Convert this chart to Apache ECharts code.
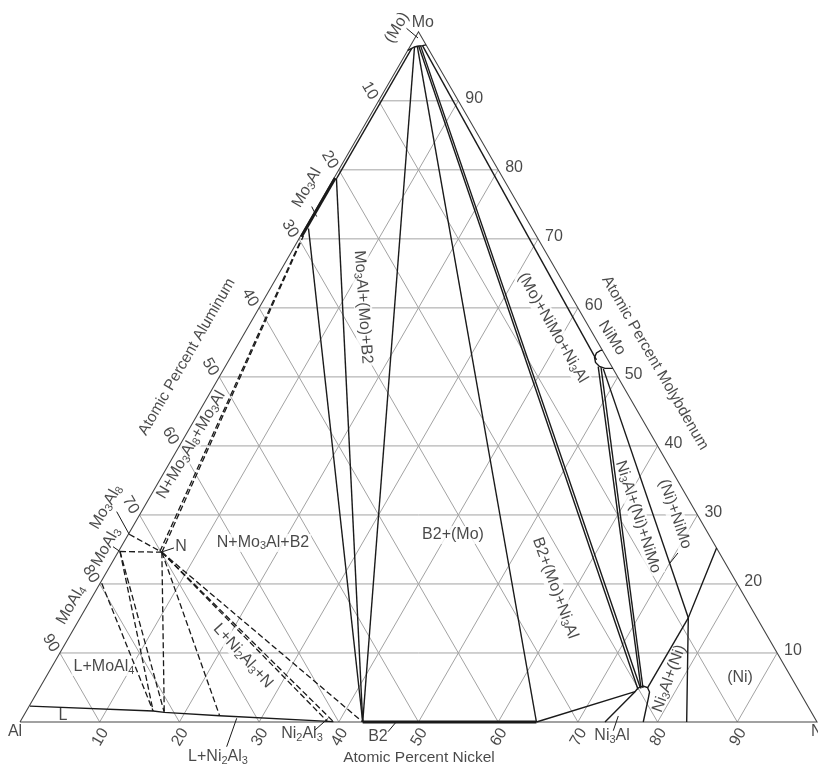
<!DOCTYPE html>
<html><head><meta charset="utf-8">
<script src="https://cdn.jsdelivr.net/npm/echarts@6/dist/echarts.min.js"></script>
<style>html,body{margin:0;padding:0;background:#fff}#c{width:818px;height:766px}</style>
</head><body><div id="c"></div>
<script>
// ---- data (compositions as [at.% Ni, at.% Mo]) ----
const GRID_STEPS = [10, 20, 30, 40, 50, 60, 70, 80, 90];
const TICK_LABELS = ['10', '20', '30', '40', '50', '60', '70', '80', '90'];

const MO_SS_BOUNDARY = [[0.0, 97.3], [0.35, 97.6], [0.6, 97.8], [0.9, 97.9], [1.1, 97.95], [1.5, 98.0], [1.9, 98.1]];
const MO3AL_PHASE = [[0.15, 70.3], [0.15, 78.8]];
const B2_PHASE = [[43.0, 0], [64.8, 0]];
const L_BOUNDARY = [[0.1, 2.3], [15.9, 1.6], [17.4, 1.4], [24.6, 0.9], [39.3, 0.05]];
const NI3AL_BOUNDARY = [[73.4, 0], [74.97, 4.39], [75.07, 4.93], [75.56, 5.22], [76.23, 5.0], [76.81, 4.35], [77.12, 3.43], [78.2, 0]];
const NIMO_BOUNDARY = [[46.15, 53.85], [45.92, 53.84], [45.59, 53.48], [45.67, 52.83], [46.16, 52.1], [46.95, 51.52], [47.78, 51.23], [48.47, 51.23], [48.77, 51.23]];
const NI_SS_BOUNDARY = [[74.8, 25.2], [76.3, 15.1], [83.65, 0]];

const SOLID_TIES = [
  [[0.35, 97.6], [0.35, 78.8]],
  [[0.3, 78.8], [43.0, 0]],
  [[0.45, 71.5], [43.0, 0]],
  [[0.6, 97.8], [43.0, 0]],
  [[0.9, 97.9], [64.8, 0]],
  [[1.05, 97.95], [75.19, 4.71]],
  [[1.25, 98.0], [75.41, 4.88]],
  [[1.5, 98.0], [46.1, 52.46]],
  [[46.8, 51.5], [75.49, 4.86]],
  [[47.2, 51.4], [75.7, 4.93]],
  [[47.61, 51.16], [76.3, 15.1]],
  [[64.8, 0], [74.97, 4.39]],
  [[76.27, 4.93], [76.3, 15.1]]
];

const DASHED_TIES = [
  [[0.1, 27.2], [5.5, 24.6]],
  [[0.2, 24.7], [5.5, 24.6]],
  [[5.5, 24.6], [0.35, 70.4]],
  [[5.2, 24.7], [0.35, 69.6]],
  [[0.2, 20.1], [15.9, 1.6]],
  [[0.2, 24.7], [15.9, 1.6]],
  [[0.2, 24.7], [17.4, 1.4]],
  [[5.5, 24.6], [17.4, 1.4]],
  [[5.5, 24.6], [24.6, 0.9]],
  [[5.5, 24.6], [38.5, 0.1]],
  [[5.5, 24.6], [39.3, 0.05]],
  [[5.5, 24.6], [43.0, 0]]
];

const LEADERS = [
  [[-1.75, 100.5], [0.39, 99.1]],
  [[-0.74, 74.68], [0.61, 73.23]],
  [[-3.11, 30.48], [0.1, 27.2]],
  [[-1.03, 25.4], [0.2, 24.7]],
  [[6.71, 25.22], [5.6, 24.7]],
  [[37.59, -1.16], [38.41, 0.54]],
  [[27.72, -3.58], [26.92, 0.54]],
  [[46.88, -1.41], [47.23, 0.14]],
  [[75.07, -1.26], [74.63, 0.87]],
  [[70.04, 23.04], [70.31, 24.49]]
];

// region / phase labels: text ({n} = subscript), anchor [Ni, Mo], rotation
const REGION_LABELS = [
  ['Mo{3}Al+(Mo)+B2', 13.0, 60.1, -86],
  ['(Mo)+NiMo+Ni{3}Al', 38.3, 57.1, -60],
  ['N+Mo{3}Al{8}+Mo{3}Al', 1.39, 40.14, 60],
  ['N+Mo{3}Al+B2', 17.52, 25.94, 0],
  ['B2+(Mo)', 40.78, 27.1, 0],
  ['B2+(Mo)+Ni{3}Al', 57.42, 19.42, -70],
  ['Ni{3}Al+(Ni)+NiMo', 62.69, 29.71, -72],
  ['(Ni)+NiMo', 67.11, 30.14, -71],
  ['(Ni)', 87.15, 6.38, 0],
  ['L+MoAl{4}', 6.55, 7.97, 0],
  ['L+Ni{2}Al{3}+N', 23.2, 9.57, -48],
  ['L', 4.96, 0.87, 0],
  ['N', 7.52, 25.36, 0],
  ['NiMo', 46.45, 55.65, -58]
];
const OUTER_LABELS = [
  ['Ni{3}Al+(Ni)', 78.3, 6.3, 70],
  ['(Mo)', -3.0, 100.6, 60],
  ['Mo', -0.15, 101.4, 0],
  ['Mo{3}Al', -2.7, 77.4, 60],
  ['Mo{3}Al{8}', -4.79, 31.16, 60],
  ['MoAl{3}', -1.89, 25.36, 60],
  ['MoAl{4}', -2.08, 16.96, 60],
  ['Ni{2}Al{3}', 36.25, -1.74, 0],
  ['L+Ni{2}Al{3}', 27.38, -5.07, 0],
  ['B2', 46.0, -2.17, 0],
  ['Ni{3}Al', 75.3, -2.03, 0],
  ['Al', 0.1, -1.45, 0]
];
const AXIS_TITLES = [
  ['Atomic Percent Aluminum', -5.5, 52.9, 60],
  ['Atomic Percent Molybdenum', 53.66, 52.03, -60],
  ['Atomic Percent Nickel', 52.67, -5.22, 0]
];

// ---- helpers ----
const S3 = Math.sqrt(3) / 2;
const toXY = (ni, mo) => [ni + mo / 2, mo * S3];
const FONT = 'Liberation Sans, Arial, sans-serif';
const INK = '#1a1a1a';
function rich(txt) {
  return txt.split(/(\{\w+\})/).filter(s => s.length).map(s => {
    const m = s.match(/^\{(\w+)\}$/);
    return m ? '{s|' + m[1] + '}' : '{t|' + s + '}';
  }).join('');
}
const RICH = {
  t: { fontSize: 16, fontFamily: FONT, color: INK, lineHeight: 18 },
  s: { fontSize: 11, fontFamily: FONT, color: INK, lineHeight: 8, verticalAlign: 'bottom' },
  a: { fontSize: 15.5, fontFamily: FONT, color: INK, lineHeight: 18 }
};

const segs = [];
GRID_STEPS.forEach(k => {
  segs.push([[k, 0], [k, 100 - k]]);
  segs.push([[0, k], [100 - k, k]]);
  segs.push([[100 - k, 0], [0, 100 - k]]);
});
const toLines = arr => arr.map(pts => ({ coords: pts.map(p => toXY(p[0], p[1])) }));

function labelItems(list, extra) {
  return list.map(([txt, ni, mo, rot]) => ({
    name: txt, value: toXY(ni, mo),
    label: Object.assign({ rotate: rot }, extra || {})
  }));
}
const tickItems = [];
GRID_STEPS.forEach((k, i) => {
  tickItems.push({ name: TICK_LABELS[i], value: toXY(k + 1.2, -2.2), label: { rotate: 60 } });
  tickItems.push({ name: TICK_LABELS[i], value: toXY(-1.85, 100 - k + 1.45), label: { rotate: -60 } });
  tickItems.push({ name: TICK_LABELS[i], value: toXY(100 - k + 0.73, k + 0.29), label: { rotate: 0, align: 'left' } });
});
tickItems.push({ name: 'Ni', value: toXY(99.97, -1.45), label: { align: 'left' } });

const textSeries = (data, z, bg, fmt) => ({
  type: 'scatter', z, symbolSize: 1, itemStyle: { color: 'transparent' }, silent: true, clip: false,
  data,
  label: {
    show: true, position: 'inside', formatter: fmt || (p => rich(p.name)), rich: RICH,
    backgroundColor: bg ? '#fff' : 'transparent', padding: bg ? [0, 2] : 0
  }
});
const lineSeries = (data, z, style) => ({
  type: 'lines', coordinateSystem: 'cartesian2d', polyline: true, z, silent: true, clip: false,
  data: toLines(data), lineStyle: Object.assign({ color: INK, width: 1.4, opacity: 1 }, style)
});

const chart = echarts.init(document.getElementById('c'), null, { renderer: 'canvas' });
chart.setOption({
  animation: false,
  backgroundColor: '#fff',
  grid: { left: 20, top: 31.8, width: 797, height: 690.2 },
  xAxis: { type: 'value', min: 0, max: 100, show: false },
  yAxis: { type: 'value', min: 0, max: 100 * S3, show: false },
  series: [
    lineSeries(segs, 1, { color: '#a3a3a3', width: 1 }),
    textSeries(labelItems(REGION_LABELS), 2, true),
    textSeries(labelItems(OUTER_LABELS), 2, false),
    textSeries(labelItems(AXIS_TITLES), 2, false, p => '{a|' + p.name + '}'),
    textSeries(tickItems, 2, false),
    lineSeries([[[0, 0], [100, 0], [0, 100], [0, 0]]], 3, { color: '#444', width: 1.1 }),
    lineSeries([MO_SS_BOUNDARY, L_BOUNDARY, NI3AL_BOUNDARY, NIMO_BOUNDARY, NI_SS_BOUNDARY], 4, {}),
    lineSeries(SOLID_TIES, 4, {}),
    lineSeries(DASHED_TIES, 4, { type: [6, 3], width: 1.3 }),
    lineSeries([MO3AL_PHASE, B2_PHASE], 4, { width: 3 }),
    lineSeries(LEADERS, 4, { width: 1 })
  ]
});
</script></body></html>
